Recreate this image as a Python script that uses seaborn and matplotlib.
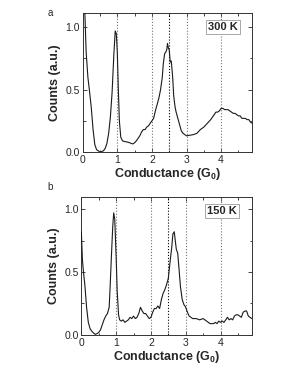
import numpy as np
import pandas as pd
import matplotlib
matplotlib.use("Agg")
import matplotlib.pyplot as plt
import seaborn as sns
from matplotlib.ticker import MultipleLocator

# ================================
# Data
# ================================
g_300 = [0.0, 0.04, 0.07, 0.1, 0.15, 0.2, 0.25, 0.3, 0.35, 0.4, 0.45, 0.5, 0.55, 0.6,
         0.65, 0.7, 0.75, 0.8, 0.85, 0.9, 0.94, 0.97, 1.0, 1.03, 1.06, 1.1, 1.15, 1.2,
         1.3, 1.4, 1.45, 1.5, 1.55, 1.6, 1.65, 1.7, 1.75, 1.8, 1.85, 1.9, 1.95, 2.0,
         2.05, 2.1, 2.15, 2.2, 2.25, 2.3, 2.33, 2.37, 2.4, 2.43, 2.45, 2.48, 2.5, 2.53,
         2.56, 2.6, 2.63, 2.67, 2.7, 2.75, 2.8, 2.85, 2.9, 2.95, 3.0, 3.1, 3.2, 3.3,
         3.4, 3.5, 3.6, 3.7, 3.8, 3.85, 3.9, 3.95, 4.0, 4.05, 4.1, 4.2, 4.3, 4.35,
         4.4, 4.5, 4.55, 4.6, 4.7, 4.75, 4.8, 4.85, 4.9]
c_300 = [1.6, 1.3, 1.05, 0.8, 0.6, 0.48, 0.35, 0.18, 0.06, 0.02, 0.01, 0.0, 0.005, 0.01,
         0.03, 0.07, 0.15, 0.28, 0.48, 0.78, 0.97, 0.95, 0.8, 0.5, 0.25, 0.12, 0.09, 0.085,
         0.08, 0.07, 0.065, 0.075, 0.09, 0.11, 0.13, 0.16, 0.18, 0.18, 0.2, 0.21, 0.23, 0.25,
         0.27, 0.33, 0.38, 0.43, 0.5, 0.6, 0.71, 0.79, 0.8, 0.82, 0.87, 0.83, 0.82, 0.72,
         0.73, 0.6, 0.45, 0.36, 0.32, 0.27, 0.22, 0.17, 0.15, 0.14, 0.13, 0.135, 0.14, 0.15,
         0.18, 0.2, 0.23, 0.26, 0.3, 0.32, 0.32, 0.33, 0.35, 0.35, 0.34, 0.34, 0.32, 0.31,
         0.31, 0.29, 0.29, 0.27, 0.27, 0.26, 0.26, 0.24, 0.23]

g_150 = [0.0, 0.03, 0.06, 0.1, 0.15, 0.2, 0.25, 0.3, 0.35, 0.4, 0.45, 0.5, 0.55, 0.6,
         0.65, 0.7, 0.75, 0.8, 0.83, 0.86, 0.9, 0.93, 0.96, 1.0, 1.03, 1.07, 1.1, 1.15,
         1.2, 1.25, 1.3, 1.35, 1.4, 1.45, 1.5, 1.55, 1.6, 1.65, 1.7, 1.75, 1.8, 1.85,
         1.9, 1.95, 2.0, 2.05, 2.1, 2.15, 2.2, 2.25, 2.3, 2.35, 2.4, 2.45, 2.5, 2.55,
         2.6, 2.63, 2.67, 2.7, 2.73, 2.77, 2.8, 2.85, 2.9, 2.95, 3.0, 3.05, 3.1, 3.2,
         3.3, 3.4, 3.5, 3.6, 3.7, 3.8, 3.85, 3.9, 3.95, 4.0, 4.05, 4.1, 4.15, 4.2,
         4.25, 4.3, 4.35, 4.4, 4.45, 4.5, 4.55, 4.6, 4.65, 4.7, 4.75, 4.8, 4.85, 4.9]
c_150 = [0.82, 0.6, 0.5, 0.4, 0.22, 0.1, 0.05, 0.03, 0.015, 0.005, 0.01, 0.02, 0.04, 0.08,
         0.12, 0.15, 0.17, 0.22, 0.4, 0.6, 0.85, 0.97, 0.92, 0.62, 0.35, 0.16, 0.12, 0.11,
         0.12, 0.1, 0.11, 0.12, 0.14, 0.13, 0.15, 0.13, 0.14, 0.17, 0.22, 0.19, 0.17, 0.17,
         0.15, 0.13, 0.14, 0.18, 0.21, 0.21, 0.23, 0.21, 0.28, 0.33, 0.36, 0.4, 0.45, 0.58,
         0.7, 0.8, 0.82, 0.75, 0.68, 0.65, 0.55, 0.38, 0.28, 0.24, 0.22, 0.18, 0.15, 0.13,
         0.13, 0.12, 0.13, 0.11, 0.09, 0.09, 0.1, 0.09, 0.11, 0.1, 0.11, 0.1, 0.12, 0.14,
         0.12, 0.13, 0.12, 0.15, 0.16, 0.16, 0.15, 0.14, 0.18, 0.19, 0.19, 0.15, 0.14, 0.13]

ref_lines = [1, 2, 2.5, 3, 4]
panels = [("a", "300 K", g_300, c_300), ("b", "150 K", g_150, c_150)]

# ================================
# Figure
# ================================
sns.set_style("ticks")
plt.rcParams["font.family"] = ["Liberation Sans", "DejaVu Sans"]
plt.rcParams["mathtext.fontset"] = "custom"
plt.rcParams["mathtext.rm"] = "Liberation Sans"
plt.rcParams["mathtext.bf"] = "Liberation Sans:bold"

fig = plt.figure(figsize=(2.98, 3.85), dpi=100)
boxes = [[0.2775, 0.605, 0.569, 0.361], [0.273, 0.130, 0.572, 0.359]]
ylims = [1.113, 1.098]
letter_y = [0.966, 0.514]

for i, (letter, temp, g, c) in enumerate(panels):
    ax = fig.add_axes(boxes[i])
    df = pd.DataFrame({"G": g, "counts": c})
    for x in ref_lines:
        ax.axvline(x, color="k" if x == 2.5 else "0.45", ls=":", lw=0.8, zorder=1)
    sns.lineplot(data=df, x="G", y="counts", ax=ax, color="0.1", lw=0.8, zorder=3)
    ax.set_xlim(0, 4.9)
    ax.set_ylim(0, ylims[i])
    ax.xaxis.set_major_locator(MultipleLocator(1))
    ax.xaxis.set_minor_locator(MultipleLocator(0.5))
    ax.yaxis.set_major_locator(MultipleLocator(0.5))
    ax.yaxis.set_minor_locator(MultipleLocator(0.25))
    ax.tick_params(which="both", direction="in", top=True, right=True,
                   labelsize=7.5, width=0.6, pad=2, colors="0.15")
    ax.tick_params(which="major", length=3)
    ax.tick_params(which="minor", length=1.8)
    for s in ax.spines.values():
        s.set_linewidth(0.7)
        s.set_color("0.2")
    ax.set_xlabel(r"Conductance (G$_\mathbf{0}$)", fontsize=9, fontweight="bold", labelpad=1)
    ax.set_ylabel("Counts (a.u.)", fontsize=9, fontweight="bold", labelpad=3)
    ax.yaxis.set_major_formatter(matplotlib.ticker.FormatStrFormatter("%.1f"))
    ax.text(0.827, 0.898, temp, transform=ax.transAxes, ha="center", va="center",
            fontsize=8, fontweight="bold",
            bbox=dict(boxstyle="square,pad=0.2", fc="white", ec="0.6", lw=0.6))
    fig.text(0.168, letter_y[i], letter, fontsize=7, ha="center", va="center")

fig.savefig("out.png", dpi=100)
